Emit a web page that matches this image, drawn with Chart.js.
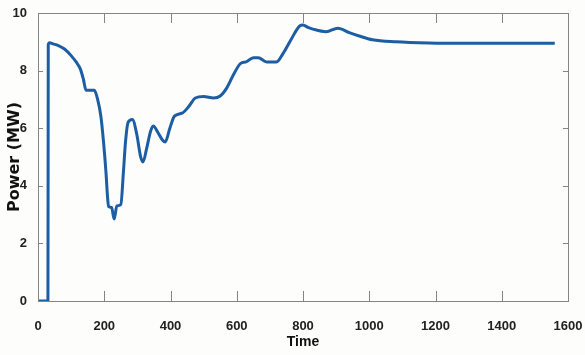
<!DOCTYPE html>
<html>
<head>
<meta charset="utf-8">
<script src="https://cdn.jsdelivr.net/npm/chart.js@4"></script>
<style>
    body { margin: 0; background: #fdfdfb; }
    #wrap { width: 585px; height: 355px; }
</style>
</head>
<body>
<div id="wrap"><canvas id="powerChart" width="585" height="355"></canvas></div>
<script>
const timeValues = [0, 30, 31, 35, 45, 60, 80, 100, 115, 128, 137, 145, 170, 180, 190, 198, 205, 210, 213, 222, 230, 238, 250, 258, 264, 272, 285, 298, 310, 317, 328, 340, 348, 362, 375, 384, 398, 412, 435, 455, 475, 500, 530, 550, 570, 592, 612, 628, 650, 665, 690, 720, 740, 765, 790, 800, 815, 830, 870, 905, 940, 970, 1010, 1080, 1180, 1300, 1560];
const powerValues = [0, 0, 8.9, 8.97, 8.93, 8.88, 8.75, 8.52, 8.3, 8.05, 7.7, 7.32, 7.32, 7.0, 6.4, 5.5, 4.5, 3.6, 3.28, 3.25, 2.85, 3.3, 3.35, 4.5, 5.5, 6.2, 6.3, 5.8, 5.0, 4.83, 5.3, 5.9, 6.08, 5.85, 5.6, 5.52, 6.0, 6.42, 6.52, 6.75, 7.05, 7.1, 7.05, 7.12, 7.4, 7.9, 8.25, 8.3, 8.45, 8.45, 8.3, 8.3, 8.6, 9.1, 9.55, 9.58, 9.5, 9.44, 9.35, 9.47, 9.32, 9.2, 9.07, 9.0, 8.96, 8.95, 8.95];
const xTicks = [0, 200, 400, 600, 800, 1000, 1200, 1400, 1600];
const yTicks = [0, 2, 4, 6, 8, 10];

const frameColor = '#858585';
const labelFont = { family: "'Liberation Sans', Arial", size: 13, weight: 'bold' };

// MATLAB style box with inward ticks
const boxPlugin = {
    id: 'box',
    afterDatasetsDraw(chart) {
        const { ctx, chartArea: a, scales } = chart;
        ctx.save();
        ctx.strokeStyle = frameColor;
        ctx.lineWidth = 1;
        ctx.strokeRect(a.left + 0.5, a.top + 0.5, a.right - a.left, a.bottom - a.top);
        ctx.beginPath();
        xTicks.forEach(t => {
            const x = Math.round(scales.x.getPixelForValue(t)) + 0.5;
            ctx.moveTo(x, a.bottom); ctx.lineTo(x, a.bottom - 10);
            ctx.moveTo(x, a.top); ctx.lineTo(x, a.top + 10);
        });
        yTicks.forEach(t => {
            const y = Math.round(scales.y.getPixelForValue(t)) + 0.5;
            ctx.moveTo(a.left, y); ctx.lineTo(a.left + 5, y);
            ctx.moveTo(a.right, y); ctx.lineTo(a.right - 5, y);
        });
        ctx.stroke();
        ctx.restore();
    }
};

const points = timeValues.map((t, i) => ({ x: t, y: powerValues[i] }));

new Chart(document.getElementById('powerChart'), {
    type: 'line',
    data: {
        datasets: [{
            data: points,
            borderColor: '#1d5da3',
            borderWidth: 3,
            pointRadius: 0,
            cubicInterpolationMode: 'monotone',
            fill: false
        }]
    },
    options: {
        responsive: false,
        animation: false,
        layout: { padding: { left: 0, right: 17, top: 13, bottom: 0 } },
        plugins: { legend: { display: false }, tooltip: { enabled: false } },
        scales: {
            x: {
                type: 'linear',
                min: 0, max: 1600,
                afterBuildTicks: s => { s.ticks = xTicks.map(v => ({ value: v })); },
                afterFit: s => { s.height = 54; s.paddingLeft = 0; s.paddingRight = 0; },
                grid: { display: false },
                border: { display: false },
                ticks: { color: '#222', font: labelFont, padding: 10, maxRotation: 0, callback: v => String(v) },
                title: { display: true, text: 'Time', color: '#111', font: { family: "'Liberation Sans', Arial", size: 14, weight: 'bold' }, padding: { top: 0, bottom: 4 } }
            },
            y: {
                min: 0, max: 10,
                afterBuildTicks: s => { s.ticks = yTicks.map(v => ({ value: v })); },
                afterFit: s => { s.width = 38; },
                grid: { display: false },
                border: { display: false },
                ticks: { color: '#222', font: labelFont, padding: 3 },
                title: { display: true, text: 'Power (MW)', color: '#111', font: { family: "'DejaVu Sans', Arial", size: 16, weight: 'bold' }, padding: { top: 5, bottom: 0 } }
            }
        }
    },
    plugins: [boxPlugin]
});
</script>
</body>
</html>
